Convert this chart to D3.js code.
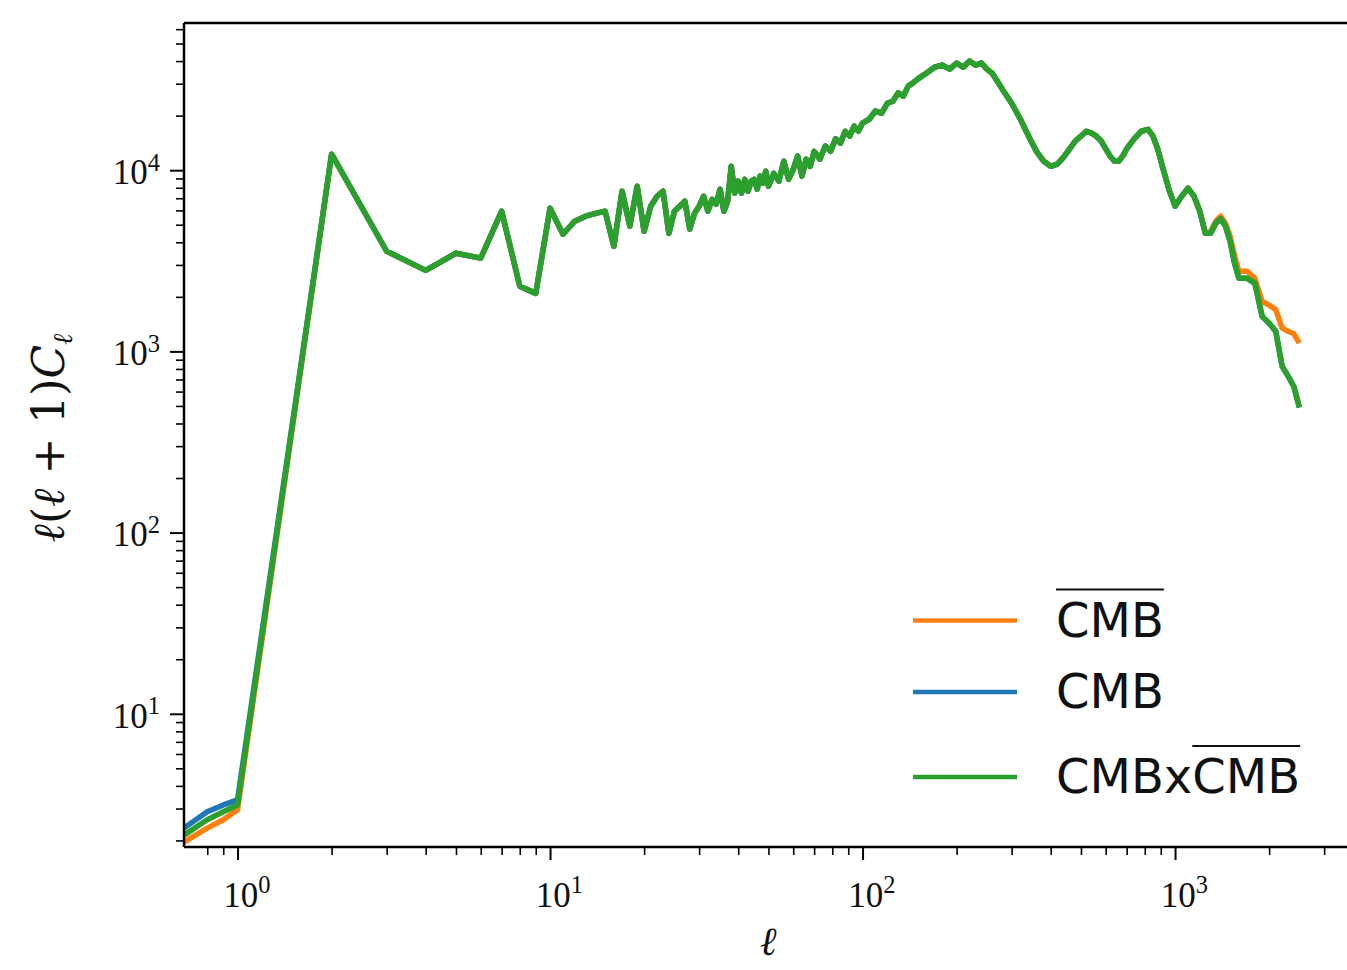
<!DOCTYPE html>
<html>
<head>
<meta charset="utf-8">
<script src="https://cdn.jsdelivr.net/npm/d3@7"></script>
<style>
  html, body { margin: 0; padding: 0; background: #fff; }
  svg { display: block; }
</style>
</head>
<body>
<svg id="chart" width="1347" height="970"></svg>
<script>
// ---------------- DATA ----------------
// low-ℓ part (series differ)
const lowEll      = [0.674, 0.8, 0.9, 1];
const lowCmbBar   = [1.96, 2.34, 2.60, 2.95];
const lowCmb      = [2.34, 2.88, 3.14, 3.35];
const lowCross    = [2.14, 2.60, 2.88, 3.14];

// shared middle part (all three series coincide)
const midEll = [2,3,4,5,6,7,8,9,10,11,12,13,14,15,16,17,18,19,20,21,22,23,24,25,26,27,28,29,30,
  31,32,33,34,35,36,37,38,39,40,41,42,43,44,45,46,47,48,49,50,52,54,56,58,60,62,64,66,68,70,
  73,76,79,82,85,88,91,94,97,100,105,110,115,120,125,130,135,140,145,150,160,170,180,190,200,
  210,220,230,240,250,260,270,280,300,320,340,360,380,400,420,440,460,480,500,520,540,560,580,
  600,620,640,660,680,700,740,780,820,850,880,920,960,1000,1050,1100,1150,1200,1250];
const midVals = [12250,3570,2800,3480,3270,5940,2290,2090,6170,4430,5230,5570,5780,5940,3800,
  7660,4910,8160,4600,6330,7180,7660,4480,5940,6330,6740,4730,5780,6330,7180,5940,6900,6500,
  7850,5940,6740,10500,7460,8700,7460,8900,7660,8700,8900,7850,9270,8480,9870,8160,9600,8700,
  11200,8900,10100,11950,9270,11500,10500,12700,11500,13600,12700,14900,14100,16400,15400,
  17500,16400,18200,19100,21200,20600,23400,24000,26700,25600,29100,30300,31800,34300,37000,
  38000,36100,39000,37000,40000,38000,39000,36100,34300,31000,28000,23400,19100,15400,12700,
  11200,10500,10800,11800,13100,14500,15400,16400,16000,15400,14500,13100,11950,11200,11200,
  11950,13100,14900,16400,16800,15400,13100,9870,7660,6330,7180,7950,7180,5940,4480];

// high-ℓ part (series differ)
const highEll     = [1300,1350,1400,1450,1500,1550,1600,1700,1800,1900,2000,2100,2200,2300,2400,2500];
const highCmbBar  = [4600,5230,5570,5100,4320,3400,2770,2770,2530,1890,1800,1700,1350,1290,1250,1110];
const highCmb     = [4480,5100,5380,4910,4050,3070,2530,2530,2380,1560,1430,1290,830,730,640,490];
const highCross   = [4480,5100,5380,4910,4050,3070,2530,2530,2380,1560,1430,1290,830,730,640,490];

const seriesNames  = ["CMBbar", "CMB", "CMBxCMBbar"];
const seriesColors = ["#ff7f0e", "#1f77b4", "#2ca02c"];

const xMajorTicks = [1, 10, 100, 1000];
const xMinorTicks = [0.8,0.9, 2,3,4,5,6,7,8,9, 20,30,40,50,60,70,80,90,
  200,300,400,500,600,700,800,900, 2000,3000,4000,5000,6000,7000,8000,9000];
const yMajorTicks = [10, 100, 1000, 10000];
const yMinorTicks = [2,3,4,5,6,7,8,9, 20,30,40,50,60,70,80,90, 200,300,400,500,600,700,800,900,
  2000,3000,4000,5000,6000,7000,8000,9000, 20000,30000,40000,50000,60000];

const xDomain = [0.674, 10000];
const yDomain = [1.84, 64900];

// ---------------- BUILD SERIES ----------------
const ellAll = lowEll.concat(midEll, highEll);
const seriesVals = [
  lowCmbBar.concat(midVals, highCmbBar),
  lowCmb.concat(midVals, highCmb),
  lowCross.concat(midVals, highCross)
];

(function draw() {
const svg = d3.select("#chart");
const pLeft = 184, pTop = 23, pBottom = 847;
const pxPerDecade = 312.5;
const pRight = pLeft + pxPerDecade * Math.log10(xDomain[1] / xDomain[0]);

const x = d3.scaleLog().domain(xDomain).range([pLeft, pRight]);
const y = d3.scaleLog().domain(yDomain).range([pBottom, pTop]);

svg.append("defs").append("clipPath").attr("id", "clip")
  .append("rect").attr("x", pLeft).attr("y", pTop).attr("width", pRight - pLeft).attr("height", pBottom - pTop);

// lines
const line = d3.line().x((d, i) => x(ellAll[i])).y(d => y(d));
const plotG = svg.append("g").attr("clip-path", "url(#clip)");
seriesVals.forEach((vals, k) => {
  plotG.append("path")
    .attr("d", line(vals))
    .attr("fill", "none")
    .attr("stroke", seriesColors[k])
    .attr("stroke-width", 5.5)
    .attr("stroke-linejoin", "round")
    .attr("stroke-linecap", "butt");
});

function styleAxis(g) {
  g.select(".domain").remove();
  g.selectAll(".tick line").attr("stroke", "#000").attr("stroke-width", 2);
}
function supLabel(sel, exp) {
  sel.text(null);
  sel.append("tspan").text("10");
  sel.append("tspan").attr("dy", "-0.55em").attr("font-size", "0.7em").text(String(exp));
}

const xMajor = svg.append("g").attr("transform", `translate(0,${pBottom})`)
  .call(d3.axisBottom(x).tickValues(xMajorTicks).tickSize(13).tickPadding(10).tickFormat(d => d));
styleAxis(xMajor);
xMajor.selectAll(".tick text")
  .attr("font-family", "Liberation Serif, DejaVu Serif, serif")
  .attr("font-size", 35).attr("fill", "#111").attr("dy", "1.05em")
  .each(function(d) { supLabel(d3.select(this), Math.round(Math.log10(d))); })
  .attr("dx", "0.25em");

const xMinor = svg.append("g").attr("transform", `translate(0,${pBottom})`)
  .call(d3.axisBottom(x).tickValues(xMinorTicks).tickSize(8).tickFormat(""));
styleAxis(xMinor);
xMinor.selectAll(".tick line").attr("stroke-width", 1.6);

const yMajor = svg.append("g").attr("transform", `translate(${pLeft},0)`)
  .call(d3.axisLeft(y).tickValues(yMajorTicks).tickSize(14).tickPadding(10).tickFormat(d => d));
styleAxis(yMajor);
yMajor.selectAll(".tick text")
  .attr("font-family", "Liberation Serif, DejaVu Serif, serif")
  .attr("font-size", 35).attr("fill", "#111").attr("dy", "0.38em")
  .each(function(d) { supLabel(d3.select(this), Math.round(Math.log10(d))); });

const yMinor = svg.append("g").attr("transform", `translate(${pLeft},0)`)
  .call(d3.axisLeft(y).tickValues(yMinorTicks).tickSize(8).tickFormat(""));
styleAxis(yMinor);
yMinor.selectAll(".tick line").attr("stroke-width", 1.6);

// spines
svg.append("line").attr("x1", pLeft).attr("x2", pRight).attr("y1", pTop).attr("y2", pTop)
  .attr("stroke", "#000").attr("stroke-width", 2.5);
svg.append("line").attr("x1", pLeft).attr("x2", pRight).attr("y1", pBottom).attr("y2", pBottom)
  .attr("stroke", "#000").attr("stroke-width", 2.5);
svg.append("line").attr("x1", pLeft).attr("x2", pLeft).attr("y1", pTop).attr("y2", pBottom)
  .attr("stroke", "#000").attr("stroke-width", 2.5);

// axis labels
svg.append("text").attr("x", 768).attr("y", 955)
  .attr("text-anchor", "middle")
  .attr("font-family", "DejaVu Serif, serif").attr("font-style", "italic")
  .attr("font-size", 40).attr("fill", "#111").text("ℓ");

const yl = svg.append("text")
  .attr("transform", "translate(64,438) rotate(-90)")
  .attr("text-anchor", "middle")
  .attr("font-family", "DejaVu Serif, serif")
  .attr("font-size", 44).attr("fill", "#111");
yl.append("tspan").attr("font-style", "italic").text("ℓ");
yl.append("tspan").text("(");
yl.append("tspan").attr("font-style", "italic").text("ℓ");
yl.append("tspan").text(" + 1)");
yl.append("tspan").attr("font-style", "italic").text("C");
yl.append("tspan").attr("font-style", "italic").attr("font-size", 27).attr("dy", "0.3em").text("ℓ");

// legend
const legItems = [
  { parts: [{ t: "CMB", bar: true }] },
  { parts: [{ t: "CMB", bar: false }] },
  { parts: [{ t: "CMBx", bar: false }, { t: "CMB", bar: true }] }
];
const legLineY = [620.5, 692, 777];
const legG = svg.append("g");
legItems.forEach((item, k) => {
  legG.append("line").attr("x1", 913).attr("x2", 1017)
    .attr("y1", legLineY[k]).attr("y2", legLineY[k])
    .attr("stroke", seriesColors[k]).attr("stroke-width", 4.5);
  let cx = 1056;
  const base = legLineY[k] + 16;
  item.parts.forEach(p => {
    const t = legG.append("text").attr("x", cx).attr("y", base)
      .attr("font-family", "DejaVu Sans, sans-serif").attr("font-size", 48)
      .attr("fill", "#111").text(p.t);
    const w = t.node().getComputedTextLength();
    if (p.bar) {
      legG.append("line").attr("x1", cx).attr("x2", cx + w)
        .attr("y1", base - 47).attr("y2", base - 47)
        .attr("stroke", "#111").attr("stroke-width", 2.2);
    }
    cx += w;
  });
});
})();
</script>
</body>
</html>
